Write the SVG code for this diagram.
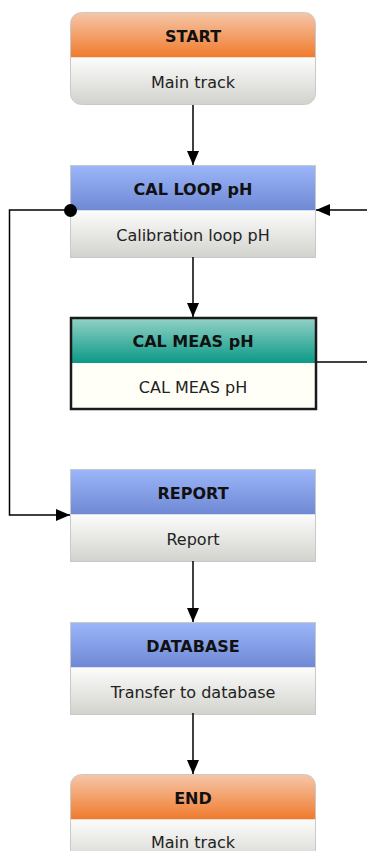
<svg xmlns="http://www.w3.org/2000/svg" width="367" height="851" viewBox="0 0 367 851">
<defs>
<linearGradient id="gOrange" x1="0" y1="0" x2="0" y2="1"><stop offset="0" stop-color="#f5c7a9"/><stop offset="1" stop-color="#f07a2c"/></linearGradient>
<linearGradient id="gBlue" x1="0" y1="0" x2="0" y2="1"><stop offset="0" stop-color="#9cb6fa"/><stop offset="1" stop-color="#6e88d4"/></linearGradient>
<linearGradient id="gTeal" x1="0" y1="0" x2="0" y2="1"><stop offset="0" stop-color="#93d2c6"/><stop offset="1" stop-color="#0b9987"/></linearGradient>
<linearGradient id="gBody" x1="0" y1="0" x2="0" y2="1"><stop offset="0" stop-color="#fcfcfb"/><stop offset="1" stop-color="#d2d2cd"/></linearGradient>
<clipPath id="cStart"><rect x="70.5" y="12.5" width="245" height="92" rx="11"/></clipPath>
<clipPath id="cEnd"><rect x="70.5" y="774.5" width="245" height="92" rx="11"/></clipPath>
<marker id="arr" viewBox="0 0 14 12" refX="14" refY="6" markerWidth="14" markerHeight="12" markerUnits="userSpaceOnUse" orient="auto"><path d="M0,0 L14,6 L0,12 z" fill="#000"/></marker>
</defs>
<style>
.hdr{font-family:"DejaVu Sans",Verdana,sans-serif;font-weight:bold;font-size:16px;fill:#111;text-anchor:middle}
.bdy{font-family:"DejaVu Sans",Verdana,sans-serif;font-size:16px;fill:#222;text-anchor:middle}
.frame{fill:none;stroke:#c9c9c9;stroke-width:1}
.conn{fill:none;stroke:#000;stroke-width:1.5}
</style>
<g id="node-start">
<g clip-path="url(#cStart)">
<rect x="70.5" y="12.5" width="245" height="45" fill="url(#gOrange)"/>
<rect x="70.5" y="57.5" width="245" height="47" fill="url(#gBody)"/>
</g>
<rect class="frame" x="70.5" y="12.5" width="245" height="92" rx="11"/>
<text class="hdr" x="193" y="42">START</text>
<text class="bdy" x="193" y="88">Main track</text>
</g>
<g id="node-calloop">
<rect x="70.5" y="165.5" width="245" height="45" fill="url(#gBlue)"/>
<rect x="70.5" y="210.5" width="245" height="47" fill="url(#gBody)"/>
<rect class="frame" x="70.5" y="165.5" width="245" height="92"/>
<text class="hdr" x="193" y="195">CAL LOOP pH</text>
<text class="bdy" x="193" y="241">Calibration loop pH</text>
</g>
<g id="node-calmeas">
<rect x="71" y="318" width="245" height="45" fill="url(#gTeal)"/>
<rect x="71" y="363" width="245" height="46" fill="#fffff7"/>
<rect x="71" y="318" width="245" height="91" fill="none" stroke="#1a1a1a" stroke-width="2.5"/>
<text class="hdr" x="193" y="347">CAL MEAS pH</text>
<text class="bdy" x="193" y="393">CAL MEAS pH</text>
</g>
<g id="node-report">
<rect x="70.5" y="469.5" width="245" height="45" fill="url(#gBlue)"/>
<rect x="70.5" y="514.5" width="245" height="47" fill="url(#gBody)"/>
<rect class="frame" x="70.5" y="469.5" width="245" height="92"/>
<text class="hdr" x="193" y="499">REPORT</text>
<text class="bdy" x="193" y="545">Report</text>
</g>
<g id="node-database">
<rect x="70.5" y="622.5" width="245" height="45" fill="url(#gBlue)"/>
<rect x="70.5" y="667.5" width="245" height="47" fill="url(#gBody)"/>
<rect class="frame" x="70.5" y="622.5" width="245" height="92"/>
<text class="hdr" x="193" y="652">DATABASE</text>
<text class="bdy" x="193" y="698">Transfer to database</text>
</g>
<g id="node-end">
<g clip-path="url(#cEnd)">
<rect x="70.5" y="774.5" width="245" height="45" fill="url(#gOrange)"/>
<rect x="70.5" y="819.5" width="245" height="47" fill="url(#gBody)"/>
</g>
<rect class="frame" x="70.5" y="774.5" width="245" height="92" rx="11"/>
<text class="hdr" x="193" y="804">END</text>
<text class="bdy" x="193" y="848">Main track</text>
</g>
<g id="connectors">
<line class="conn" x1="193" y1="105" x2="193" y2="165" marker-end="url(#arr)"/>
<line class="conn" x1="193" y1="257" x2="193" y2="317" marker-end="url(#arr)"/>
<line class="conn" x1="193" y1="561" x2="193" y2="622" marker-end="url(#arr)"/>
<line class="conn" x1="193" y1="713" x2="193" y2="774" marker-end="url(#arr)"/>
<line class="conn" x1="367" y1="210" x2="316" y2="210" marker-end="url(#arr)"/>
<line class="conn" x1="317" y1="362" x2="367" y2="362"/>
<polyline class="conn" points="70,210 9.5,210 9.5,515 70,515" marker-end="url(#arr)"/>
<circle cx="70.5" cy="210.5" r="6.5" fill="#000"/>
</g>
</svg>
